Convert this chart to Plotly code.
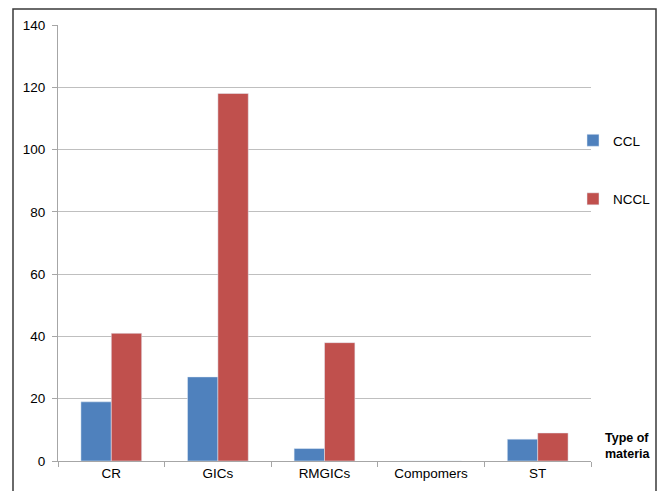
import plotly.graph_objects as go

categories = ["CR", "GICs", "RMGICs", "Compomers", "ST"]
ccl = [19, 27, 4, 0, 7]
nccl = [41, 118, 38, 0, 9]
y_ticks = [0, 20, 40, 60, 80, 100, 120, 140]

W, H = 659, 491
L, R, T, B = 58, 68, 25, 30
pw = W - L - R
ph = H - T - B

def px_x(x):
    return (x - L) / pw

def px_y(y):
    return (H - B - y) / ph

fig = go.Figure()
fig.add_trace(go.Bar(x=categories, y=ccl, name="CCL", marker_color="#4F81BD",
                     legendgroup="a"))
fig.add_trace(go.Bar(x=categories, y=nccl, name="NCCL", marker_color="#C0504D",
                     legendgroup="b"))

font = dict(family="Liberation Sans, Arial, sans-serif", size=13.5, color="#000000")

fig.update_layout(
    width=W, height=H,
    margin=dict(l=L, r=R, t=T, b=B, autoexpand=False),
    paper_bgcolor="white", plot_bgcolor="white",
    font=font,
    barmode="group", bargap=0.43, bargroupgap=0,
    showlegend=True,
    legend=dict(x=px_x(573), y=px_y(125), xanchor="left", yanchor="top",
                font=dict(family=font["family"], size=13.5, color="#000"),
                tracegroupgap=38, itemwidth=30, bgcolor="rgba(0,0,0,0)"),
    xaxis=dict(showline=True, linecolor="#a6a6a6", linewidth=1,
               ticks="outside", tickson="boundaries", ticklen=5,
               tickcolor="#a6a6a6", showgrid=False, fixedrange=True),
    yaxis=dict(range=[0, 140], tickvals=y_ticks, showline=True,
               linecolor="#a6a6a6", linewidth=1, ticks="outside", ticklen=5,
               tickcolor="#a6a6a6", showgrid=True, gridcolor="#bfbfbf",
               gridwidth=1, zeroline=False, ticklabelstandoff=4),
    shapes=[dict(type="rect", xref="paper", yref="paper",
                 x0=px_x(13), x1=px_x(656), y0=px_y(500), y1=px_y(9),
                 line=dict(color="#3a3a3a", width=1.5), fillcolor="rgba(0,0,0,0)",
                 layer="above")],
    annotations=[dict(text="<b>Type of<br>materia</b>", xref="paper", yref="paper",
                      x=px_x(603), y=px_y(446), xanchor="left", yanchor="middle",
                      align="left", showarrow=False,
                      font=dict(family=font["family"], size=12.5, color="#000"))],
)

fig.write_html("out.html")
